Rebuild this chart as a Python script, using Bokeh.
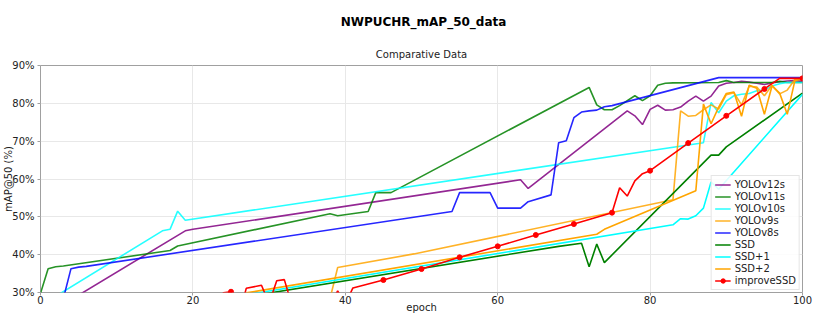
from bokeh.plotting import figure
from bokeh.models import Range1d, FixedTicker, PrintfTickFormatter, Title
from bokeh.embed import file_html
from bokeh.resources import INLINE

FONT = "DejaVu Sans"

# ---------------- data (epoch, mAP@50 %) ----------------
v12_x = [5, 19, 20, 63, 64, 77, 78, 79, 80, 81, 82, 83, 84, 85, 86, 87, 88, 89, 90,
         91, 92, 93, 94, 95, 96, 97, 98, 99, 100]
v12_y = [29.3, 46.3, 46.7, 59.8, 57.5, 78.0, 76.7, 74.4, 78.4, 79.5, 78.2, 78.3, 79.0,
         80.6, 81.9, 80.6, 81.9, 84.6, 85.3, 85.5, 85.8, 85.6, 85.3, 85.0, 85.4, 85.7,
         85.9, 86.0, 85.8]

v11_x = [0, 1, 2, 3, 17, 18, 38, 39, 43, 44, 46, 72, 73, 74, 75, 76, 78, 79, 80, 81,
         82, 83, 89, 90, 91, 96, 97, 98, 100]
v11_y = [29.8, 36.3, 36.8, 37.0, 41.1, 42.3, 50.8, 50.3, 51.4, 56.4, 56.4, 84.2, 79.6,
         78.3, 78.3, 79.4, 82.0, 80.7, 82.0, 84.8, 85.3, 85.4, 85.5, 86.0, 85.5, 85.5,
         85.8, 85.5, 85.5]

v10_x = [2, 16, 17, 18, 19, 87, 88, 89, 90, 91, 92, 93, 94, 95, 96, 97, 98, 100]
v10_y = [29.0, 46.3, 46.7, 51.5, 49.1, 69.6, 80.2, 77.5, 80.6, 82.0, 82.4, 82.6, 83.3,
         83.5, 84.6, 85.2, 85.5, 85.5]

v9_x = [38, 39, 49, 83, 84, 85, 86, 87, 88, 89, 90, 91, 92, 93, 94, 95, 96, 97, 98, 99, 100]
v9_y = [28.4, 36.6, 40.2, 54.5, 78.0, 76.6, 76.8, 78.3, 79.6, 78.5, 82.3, 82.8, 79.6,
        84.5, 84.3, 82.0, 84.8, 82.5, 83.5, 86.3, 86.8]

v8_x = [3, 4, 5, 6, 54, 55, 59, 60, 63, 64, 67, 68, 69, 70, 71, 72, 73, 74, 75, 89, 100]
v8_y = [28.4, 36.3, 36.7, 36.9, 51.4, 56.4, 56.4, 52.3, 52.3, 54.0, 55.8, 69.6, 70.1,
        76.2, 77.7, 78.0, 78.2, 79.1, 79.4, 86.8, 86.8]

ssd_x = [28, 68, 71, 72, 73, 74, 88, 89, 90, 100]
ssd_y = [29.2, 42.2, 43.0, 36.8, 42.8, 37.9, 66.3, 66.3, 68.5, 82.7]

ssd1_x = [27, 83, 84, 85, 86, 87, 88, 89, 100]
ssd1_y = [29.4, 47.9, 49.5, 49.4, 50.3, 52.3, 59.2, 57.3, 82.4]

ssd2_x = [27, 73, 74, 86, 87, 88, 89, 90, 91, 92, 93, 94, 95, 96, 97, 98, 99, 100]
ssd2_y = [29.9, 45.4, 46.7, 56.9, 79.8, 74.6, 79.0, 82.6, 83.0, 76.6, 84.8, 84.0, 77.1,
          84.6, 82.7, 77.1, 86.0, 86.5]

imp_x = [23, 24, 25, 26, 27, 29, 30, 31, 32, 33, 38, 39, 40, 41, 45, 50, 55, 60, 65, 70,
         75, 76, 77, 78, 79, 80, 85, 90, 95, 97, 98, 99, 100]
imp_y = [26.0, 29.9, 30.2, 23.2, 31.1, 31.9, 27.1, 33.1, 33.4, 26.6, 27.0, 30.4, 27.0,
         31.2, 33.3, 36.2, 39.3, 42.2, 45.2, 48.1, 51.1, 57.7, 55.5, 59.5, 61.4, 62.2,
         69.5, 76.7, 83.8, 86.6, 86.6, 86.6, 86.6]

x_ticks = [0, 20, 40, 60, 80, 100]
y_ticks = [30, 40, 50, 60, 70, 80, 90]

series = [
    ("YOLOv12s", v12_x, v12_y, "purple", 0.85),
    ("YOLOv11s", v11_x, v11_y, "green", 0.85),
    ("YOLOv10s", v10_x, v10_y, "cyan", 0.85),
    ("YOLOv9s", v9_x, v9_y, "orange", 0.85),
    ("YOLOv8s", v8_x, v8_y, "blue", 0.85),
    ("SSD", ssd_x, ssd_y, "green", 1.0),
    ("SSD+1", ssd1_x, ssd1_y, "cyan", 1.0),
    ("SSD+2", ssd2_x, ssd2_y, "orange", 1.0),
]

# ---------------- figure ----------------
p = figure(frame_width=762, frame_height=227, output_backend="svg", toolbar_location=None,
           x_range=Range1d(0, 100), y_range=Range1d(30, 90),
           min_border_left=36, min_border_right=17, min_border_top=0,
           min_border_bottom=0)
p.background_fill_color = "white"
p.border_fill_color = "white"
p.outline_line_color = "#a0a0a0"
p.outline_line_width = 1

# titles: p.title is outermost, the added one sits next to the frame
p.title.text = "NWPUCHR_mAP_50_data"
p.title.align = "center"
p.title.offset = -9
p.title.text_font = FONT
p.title.text_font_size = "12px"
p.title.text_font_style = "bold"
p.title.text_color = "black"
p.title.standoff = 25
p.title.padding = (4, 0, 0, 0)
sub_title = Title(text="Comparative Data", align="center",
                  text_font=FONT, text_font_size="10px", text_font_style="normal",
                  text_color="#222222", standoff=11)
p.add_layout(sub_title, "above")

for name, xs, ys, col, alpha in series:
    p.line(xs, ys, line_color=col, line_width=1.6, line_alpha=alpha, legend_label=name)

p.line(imp_x, imp_y, line_color="red", line_width=1.6, legend_label="improveSSD")
mk_x = [x for x in imp_x if x % 5 == 0]
mk_y = [y for x, y in zip(imp_x, imp_y) if x % 5 == 0]
p.scatter(mk_x, mk_y, size=5, color="red", legend_label="improveSSD")

# axes
p.xaxis.ticker = FixedTicker(ticks=x_ticks)
p.yaxis.ticker = FixedTicker(ticks=y_ticks)
p.yaxis.formatter = PrintfTickFormatter(format="%d%%")
p.xaxis.axis_label = "epoch"
p.yaxis.axis_label = "mAP@50 (%)"
for ax in (p.xaxis[0], p.yaxis[0]):
    ax.axis_line_color = None
    ax.major_tick_line_color = "#a0a0a0"
    ax.major_tick_out = 3
    ax.major_tick_in = 0
    ax.minor_tick_line_color = None
    ax.major_label_text_font = FONT
    ax.major_label_text_font_size = "10px"
    ax.major_label_text_color = "#222222"
    ax.axis_label_text_font = FONT
    ax.axis_label_text_font_size = "10px"
    ax.axis_label_text_font_style = "normal"
    ax.axis_label_text_color = "#222222"
p.xaxis.major_label_standoff = 0
p.xaxis.axis_label_standoff = -5
p.yaxis.major_label_standoff = 3
p.yaxis.axis_label_standoff = -5

p.xgrid.grid_line_color = "#e8e8e8"
p.ygrid.grid_line_color = "#e8e8e8"

# legend
lg = p.legend[0]
lg.location = "bottom_right"
lg.margin = 2
lg.padding = 3
lg.spacing = 1
lg.label_height = 11
lg.glyph_height = 11
lg.glyph_width = 16
lg.label_standoff = 4
lg.label_text_font = FONT
lg.label_text_font_size = "10px"
lg.label_text_color = "#222222"
lg.border_line_color = "#cccccc"
lg.background_fill_alpha = 0.85
lg.click_policy = "none"

open("out.html", "w").write(file_html(p, INLINE))
